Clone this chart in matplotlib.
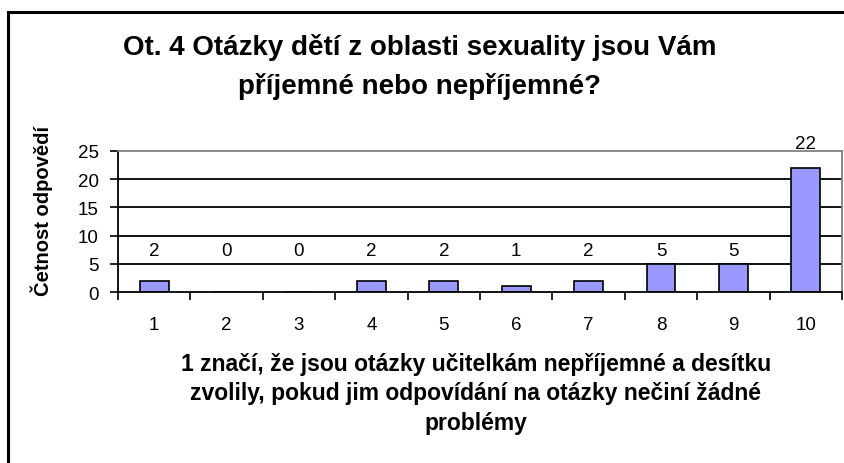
import matplotlib
matplotlib.use("Agg")
import matplotlib.pyplot as plt
from matplotlib.patches import Rectangle

categories = ["1", "2", "3", "4", "5", "6", "7", "8", "9", "10"]
values = [2, 0, 0, 2, 2, 1, 2, 5, 5, 22]
yticks = [0, 5, 10, 15, 20, 25]

title = "Ot. 4 Otázky dětí z oblasti sexuality jsou Vám\npříjemné nebo nepříjemné?"
ylabel = "Četnost odpovědí"
xlabel = ("1 značí, že jsou otázky učitelkám nepříjemné a desítku\n"
          "zvolily, pokud jim odpovídání na otázky nečiní žádné\n"
          "problémy")

plt.rcParams['font.family'] = ['Liberation Sans', 'DejaVu Sans']

W, H = 845, 464
fig = plt.figure(figsize=(W / 100, H / 100), dpi=100)
fig.patch.set_facecolor("white")

# outer chart border (cut by the image on right/bottom)
fig.patches.append(Rectangle((8 / W, 0 - 10 / H), (W + 20) / W, (H - 13 + 10) / H,
                             transform=fig.transFigure, fill=False,
                             edgecolor="black", linewidth=2.2, clip_on=False))

l, r, t, b = 118, 842, 152, 293
ax = fig.add_axes([l / W, (H - b) / H, (r - l) / W, (b - t) / H])

x = list(range(len(categories)))
ax.bar(x, values, width=0.4, color="#9999FF", edgecolor="black", linewidth=1.2, zorder=3)

ax.set_xlim(-0.5, len(categories) - 0.5)
ax.set_ylim(0, 25)
ax.set_yticks(yticks)
ax.set_yticklabels([str(v) for v in yticks], fontsize=13.5)
ax.set_xticks(x)
ax.set_xticklabels(categories, fontsize=13.5)
ax.tick_params(axis="x", length=0, pad=17)
ax.set_xticks([i + 0.5 for i in range(-1, len(categories))], minor=True)
ax.tick_params(axis="x", which="minor", length=6, width=1.2, direction="out")
ax.tick_params(axis="y", length=6, width=1.2, direction="out", pad=8)

for yv in yticks[1:-1]:
    ax.axhline(yv, color="black", linewidth=1.3, zorder=1)

ax.spines["left"].set_linewidth(1.3)
ax.spines["bottom"].set_linewidth(1.3)
ax.spines["bottom"].set_zorder(4)
ax.spines["top"].set_color("#808080")
ax.spines["right"].set_color("#808080")
ax.spines["top"].set_linewidth(1.3)
ax.spines["right"].set_linewidth(1.3)

for xi, v in zip(x, values):
    ypos = v + 4.3 if v > 20 else max(v, 5) + 2.4
    ax.text(xi, ypos, str(v), ha="center", va="center", fontsize=13.5)

fig.text(420 / W, 1 - 67 / H, title, ha="center", va="center", fontsize=20,
         fontweight="bold", linespacing=1.6)
fig.text(42 / W, 1 - 211 / H, ylabel, ha="center", va="center", rotation=90,
         fontsize=14.5, fontweight="bold")
fig.text(476 / W, 1 - 394 / H, xlabel, ha="center", va="center", fontsize=16.5,
         fontweight="bold", linespacing=1.38)

fig.savefig("out.png", dpi=100)
